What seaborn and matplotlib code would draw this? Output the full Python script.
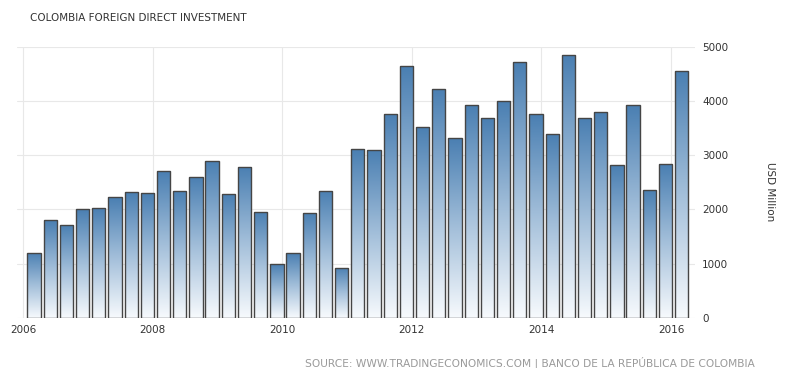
import numpy as np
import pandas as pd
import matplotlib
matplotlib.use("Agg")
import matplotlib.pyplot as plt
import seaborn as sns
from matplotlib.colors import LinearSegmentedColormap

# ---- data ----
quarters = [f"{y}Q{q}" for y in range(2006, 2016) for q in range(1, 5)] + ["2016Q1"]
values = [1200, 1805, 1718, 2000, 2025, 2222, 2320, 2302, 2707, 2344, 2602, 2897,
          2284, 2786, 1958, 994, 1197, 1939, 2344, 926, 3112, 3100, 3762, 4641,
          3523, 4223, 3315, 3928, 3683, 3996, 4726, 3757, 3394, 4849, 3683, 3799,
          2818, 3922, 2357, 2836, 4554]
year_ticks = [2006, 2008, 2010, 2012, 2014, 2016]
y_ticks = [0, 1000, 2000, 3000, 4000, 5000]
title = "COLOMBIA FOREIGN DIRECT INVESTMENT"
source = "SOURCE: WWW.TRADINGECONOMICS.COM | BANCO DE LA REPÚBLICA DE COLOMBIA"
ylabel = "USD Million"

pos = [int(s[:4]) + (int(s[-1]) - 1) * 0.25 + 0.165 for s in quarters]
df = pd.DataFrame({"pos": pos, "value": values})

sns.set_theme(style="white")
plt.rcParams["font.family"] = ["DejaVu Sans"]

W, H = 788, 368
fig = plt.figure(figsize=(W / 100, H / 100), dpi=100)
ax = fig.add_axes([17 / W, 1 - 318 / H, (695 - 17) / W, (318 - 46.7) / H])

sns.barplot(data=df, x="pos", y="value", native_scale=True, width=0.82,
            errorbar=None, ax=ax, color="#4682b4")

cmap = LinearSegmentedColormap.from_list("g", ["#f7fafd", "#a3bfda", "#4a7fb2"])
grad = np.linspace(0, 1, 256).reshape(-1, 1)
for p in ax.patches:
    x0, y0 = p.get_x(), p.get_y()
    w, h = p.get_width(), p.get_height()
    p.set_facecolor("none")
    p.set_edgecolor("#454545")
    p.set_linewidth(1.0)
    p.set_zorder(3)
    im = ax.imshow(grad, extent=[x0, x0 + w, y0, y0 + h], origin="lower",
                   aspect="auto", cmap=cmap, zorder=2, interpolation="bilinear")
    im.set_clip_path(p)

ax.set_xlim(2006 - 6.3 / 64.8, 2016 + (695 - 671) / 64.8)
ax.set_ylim(0, 5000)
ax.set_xticks(year_ticks)
ax.set_xticklabels([str(y) for y in year_ticks])
ax.set_yticks(y_ticks)
ax.yaxis.tick_right()
ax.tick_params(axis="x", length=0, pad=5, labelsize=7.5, colors="#333333")
ax.tick_params(axis="y", length=0, pad=5, labelsize=7.5, colors="#333333")
ax.set_xlabel("")
ax.set_ylabel("")
for s in ax.spines.values():
    s.set_visible(False)
ax.grid(True, color="#e8e8e8", linewidth=0.8, zorder=0)
ax.set_axisbelow(True)

fig.text(30 / W, 1 - 18 / H, title, fontsize=7.5, color="#333333", va="center", ha="left")
fig.text(770 / W, 1 - 192 / H, ylabel, fontsize=7.5, color="#333333", rotation=270,
         va="center", ha="center")
fig.text(755 / W, 1 - 363 / H, source, fontsize=7.7, color="#9a9a9a", va="center", ha="right")

fig.savefig("out.png", dpi=100)
